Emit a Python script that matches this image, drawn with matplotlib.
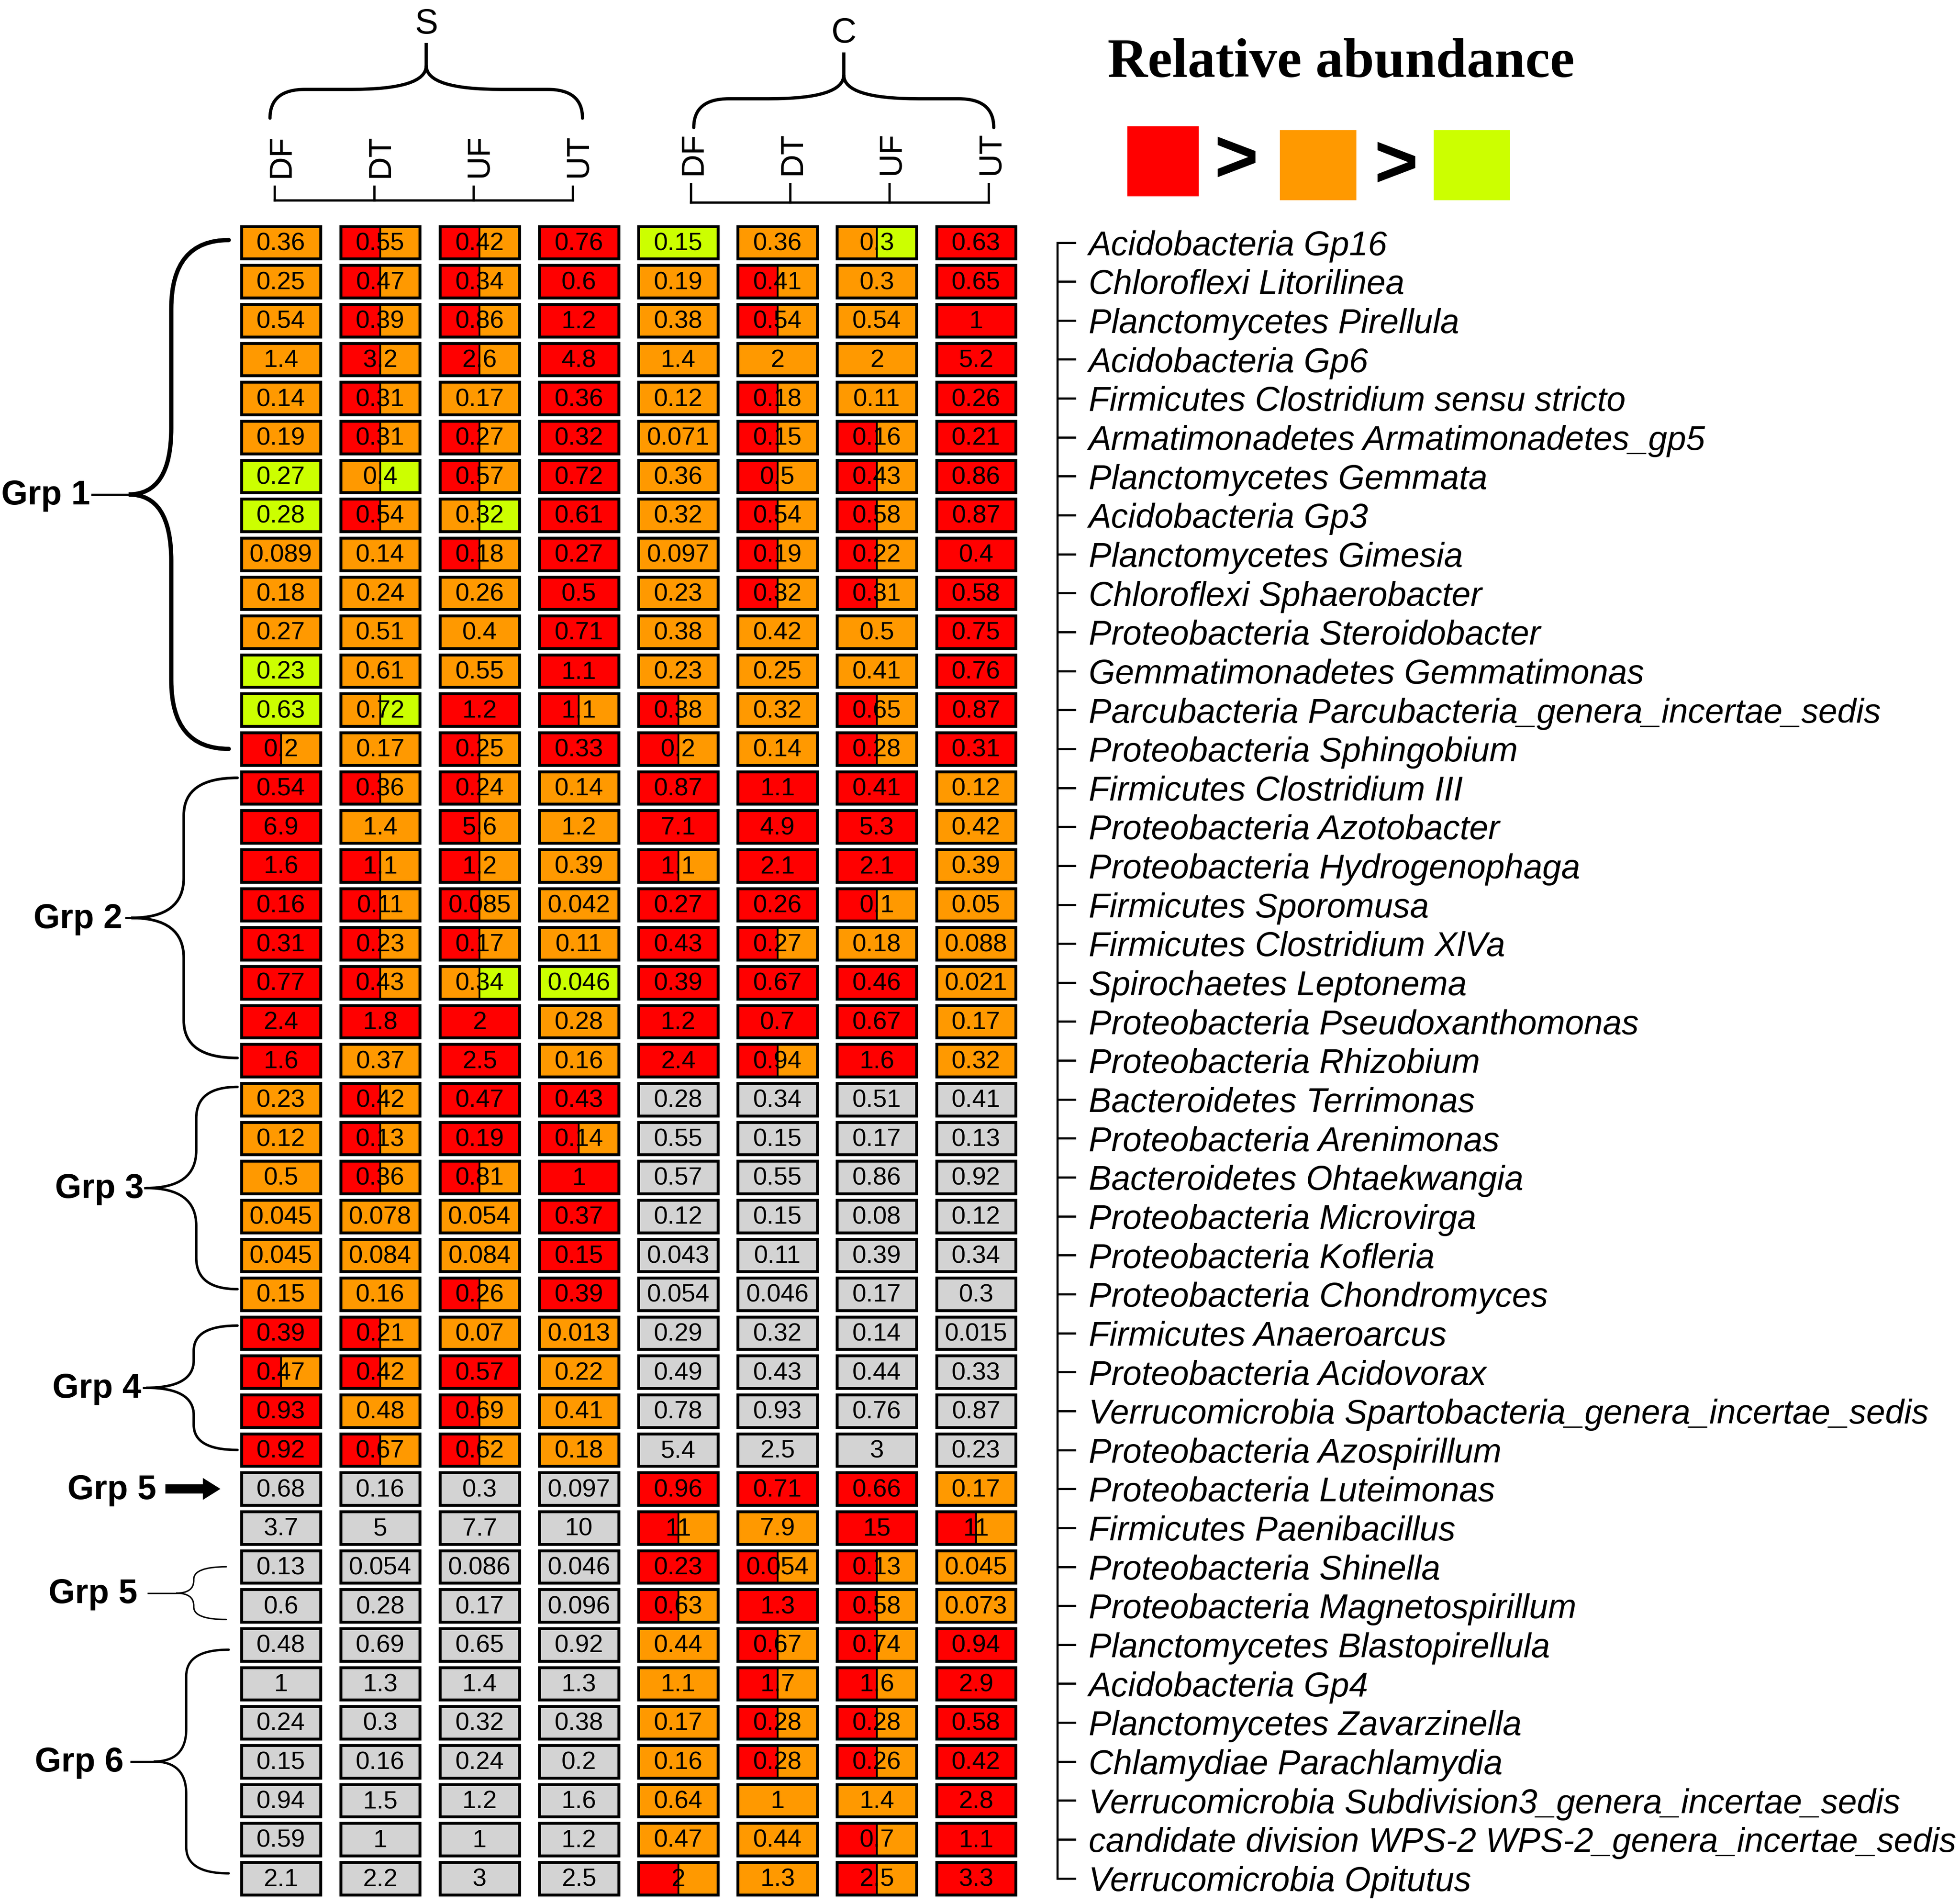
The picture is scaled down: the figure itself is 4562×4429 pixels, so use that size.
import matplotlib.pyplot as plt
import matplotlib.patches as mpatches
from matplotlib.path import Path

taxa = ['Acidobacteria Gp16', 'Chloroflexi Litorilinea', 'Planctomycetes Pirellula',
        'Acidobacteria Gp6', 'Firmicutes Clostridium sensu stricto',
        'Armatimonadetes Armatimonadetes_gp5', 'Planctomycetes Gemmata', 'Acidobacteria Gp3',
        'Planctomycetes Gimesia', 'Chloroflexi Sphaerobacter', 'Proteobacteria Steroidobacter',
        'Gemmatimonadetes Gemmatimonas', 'Parcubacteria Parcubacteria_genera_incertae_sedis',
        'Proteobacteria Sphingobium', 'Firmicutes Clostridium III', 'Proteobacteria Azotobacter',
        'Proteobacteria Hydrogenophaga', 'Firmicutes Sporomusa', 'Firmicutes Clostridium XlVa',
        'Spirochaetes Leptonema', 'Proteobacteria Pseudoxanthomonas', 'Proteobacteria Rhizobium',
        'Bacteroidetes Terrimonas', 'Proteobacteria Arenimonas', 'Bacteroidetes Ohtaekwangia',
        'Proteobacteria Microvirga', 'Proteobacteria Kofleria', 'Proteobacteria Chondromyces',
        'Firmicutes Anaeroarcus', 'Proteobacteria Acidovorax',
        'Verrucomicrobia Spartobacteria_genera_incertae_sedis', 'Proteobacteria Azospirillum',
        'Proteobacteria Luteimonas', 'Firmicutes Paenibacillus', 'Proteobacteria Shinella',
        'Proteobacteria Magnetospirillum', 'Planctomycetes Blastopirellula', 'Acidobacteria Gp4',
        'Planctomycetes Zavarzinella', 'Chlamydiae Parachlamydia',
        'Verrucomicrobia Subdivision3_genera_incertae_sedis',
        'candidate division WPS-2 WPS-2_genera_incertae_sedis', 'Verrucomicrobia Opitutus']

sites = ['S', 'C']
treatments = ['DF', 'DT', 'UF', 'UT']

# columns: S-DF S-DT S-UF S-UT C-DF C-DT C-UF C-UT
values = [
    [0.36, 0.55, 0.42, 0.76, 0.15, 0.36, 0.3, 0.63],
    [0.25, 0.47, 0.34, 0.6, 0.19, 0.41, 0.3, 0.65],
    [0.54, 0.39, 0.86, 1.2, 0.38, 0.54, 0.54, 1],
    [1.4, 3.2, 2.6, 4.8, 1.4, 2, 2, 5.2],
    [0.14, 0.31, 0.17, 0.36, 0.12, 0.18, 0.11, 0.26],
    [0.19, 0.31, 0.27, 0.32, 0.071, 0.15, 0.16, 0.21],
    [0.27, 0.4, 0.57, 0.72, 0.36, 0.5, 0.43, 0.86],
    [0.28, 0.54, 0.32, 0.61, 0.32, 0.54, 0.58, 0.87],
    [0.089, 0.14, 0.18, 0.27, 0.097, 0.19, 0.22, 0.4],
    [0.18, 0.24, 0.26, 0.5, 0.23, 0.32, 0.31, 0.58],
    [0.27, 0.51, 0.4, 0.71, 0.38, 0.42, 0.5, 0.75],
    [0.23, 0.61, 0.55, 1.1, 0.23, 0.25, 0.41, 0.76],
    [0.63, 0.72, 1.2, 1.1, 0.38, 0.32, 0.65, 0.87],
    [0.2, 0.17, 0.25, 0.33, 0.2, 0.14, 0.28, 0.31],
    [0.54, 0.36, 0.24, 0.14, 0.87, 1.1, 0.41, 0.12],
    [6.9, 1.4, 5.6, 1.2, 7.1, 4.9, 5.3, 0.42],
    [1.6, 1.1, 1.2, 0.39, 1.1, 2.1, 2.1, 0.39],
    [0.16, 0.11, 0.085, 0.042, 0.27, 0.26, 0.1, 0.05],
    [0.31, 0.23, 0.17, 0.11, 0.43, 0.27, 0.18, 0.088],
    [0.77, 0.43, 0.34, 0.046, 0.39, 0.67, 0.46, 0.021],
    [2.4, 1.8, 2, 0.28, 1.2, 0.7, 0.67, 0.17],
    [1.6, 0.37, 2.5, 0.16, 2.4, 0.94, 1.6, 0.32],
    [0.23, 0.42, 0.47, 0.43, 0.28, 0.34, 0.51, 0.41],
    [0.12, 0.13, 0.19, 0.14, 0.55, 0.15, 0.17, 0.13],
    [0.5, 0.36, 0.81, 1, 0.57, 0.55, 0.86, 0.92],
    [0.045, 0.078, 0.054, 0.37, 0.12, 0.15, 0.08, 0.12],
    [0.045, 0.084, 0.084, 0.15, 0.043, 0.11, 0.39, 0.34],
    [0.15, 0.16, 0.26, 0.39, 0.054, 0.046, 0.17, 0.3],
    [0.39, 0.21, 0.07, 0.013, 0.29, 0.32, 0.14, 0.015],
    [0.47, 0.42, 0.57, 0.22, 0.49, 0.43, 0.44, 0.33],
    [0.93, 0.48, 0.69, 0.41, 0.78, 0.93, 0.76, 0.87],
    [0.92, 0.67, 0.62, 0.18, 5.4, 2.5, 3, 0.23],
    [0.68, 0.16, 0.3, 0.097, 0.96, 0.71, 0.66, 0.17],
    [3.7, 5, 7.7, 10, 11, 7.9, 15, 11],
    [0.13, 0.054, 0.086, 0.046, 0.23, 0.054, 0.13, 0.045],
    [0.6, 0.28, 0.17, 0.096, 0.63, 1.3, 0.58, 0.073],
    [0.48, 0.69, 0.65, 0.92, 0.44, 0.67, 0.74, 0.94],
    [1, 1.3, 1.4, 1.3, 1.1, 1.7, 1.6, 2.9],
    [0.24, 0.3, 0.32, 0.38, 0.17, 0.28, 0.28, 0.58],
    [0.15, 0.16, 0.24, 0.2, 0.16, 0.28, 0.26, 0.42],
    [0.94, 1.5, 1.2, 1.6, 0.64, 1, 1.4, 2.8],
    [0.59, 1, 1, 1.2, 0.47, 0.44, 0.7, 1.1],
    [2.1, 2.2, 3, 2.5, 2, 1.3, 2.5, 3.3],
]

# R > O > G, N = not compared; two letters = left half / right half
levels = [
    'O RO RO R G O OG R', 'O RO RO R O RO O R', 'O RO RO R O RO O R', 'O RO RO R O O O R',
    'O RO O R O RO O R', 'O RO RO R O RO RO R', 'G OG RO R O RO RO R', 'G RO OG R O RO RO R',
    'O O RO R O RO RO R', 'O O O R O RO RO R', 'O O O R O O O R', 'G O O R O O O R',
    'G OG R RO RO O RO R', 'RO O RO R RO O RO R', 'R RO RO O R R R O', 'R O RO O R R R O',
    'R RO RO O RO R R O', 'R RO RO O R R RO O', 'R RO RO O R RO O O', 'R RO OG G R R R O',
    'R R R O R R R O', 'R O R O R RO R O', 'O RO R R N N N N', 'O RO R RO N N N N',
    'O RO RO R N N N N', 'O O O R N N N N', 'O O O R N N N N', 'O O RO R N N N N',
    'R RO O O N N N N', 'RO RO R O N N N N', 'R O RO O N N N N', 'R RO RO O N N N N',
    'N N N N R R R O', 'N N N N RO O R RO', 'N N N N R RO RO O', 'N N N N RO R RO O',
    'N N N N O RO RO R', 'N N N N O RO RO R', 'N N N N O RO RO R', 'N N N N O RO RO R',
    'N N N N O O O R', 'N N N N O O RO R', 'N N N N RO O RO R',
]

group_names = ['Grp 1', 'Grp 2', 'Grp 3', 'Grp 4', 'Grp 5', 'Grp 5', 'Grp 6']
group_rows = [(0, 13), (14, 21), (22, 27), (28, 31), (32, 32), (34, 35), (36, 42)]

colors = {'R': '#FF0000', 'O': '#FF9900', 'G': '#CCFF00', 'N': '#D3D3D3'}

# ---- layout (units = pixels of a 1568 x 1522 canvas) ----
W, H = 1568, 1522
x0, dx, cw = 193, 79.45, 63.5
y0, dy, ch = 181, 31.15, 26
SANS = 'Liberation Sans'

fig = plt.figure(figsize=(4562 / 300, 4429 / 300), dpi=300)
ax = fig.add_axes([0, 0, 1, 1])
ax.set_xlim(0, W)
ax.set_ylim(H, 0)
ax.axis('off')


def row_mid(i):
    return y0 + i * dy + ch / 2


def col_mid(j):
    return x0 + j * dx + cw / 2


def brace(a, b, base, d, h, r1, r2, stem, orient, lw, stem_lw=None):
    c = (a + b) / 2
    uv = [(a, 0), (a, d), (a + r1, d), (c - r2, d), (c, d), (c, d + h),
          (c, d), (c + r2, d), (b - r1, d), (b, d), (b, 0)]
    codes = [Path.MOVETO, Path.CURVE3, Path.CURVE3, Path.LINETO, Path.CURVE3, Path.CURVE3,
             Path.CURVE3, Path.CURVE3, Path.LINETO, Path.CURVE3, Path.CURVE3]
    if orient == 'up':
        conv = lambda u, v: (u, base - v)
    else:
        conv = lambda u, v: (base - v, u)
    verts = [conv(u, v) for u, v in uv]
    ax.add_patch(mpatches.PathPatch(Path(verts, codes), fill=False, lw=lw,
                                    edgecolor='black', capstyle='round'))
    if stem > 0:
        p1, p2 = conv(c, d + h), conv(c, d + h + stem)
        ax.plot([p1[0], p2[0]], [p1[1], p2[1]], color='black',
                lw=stem_lw if stem_lw else lw, solid_capstyle='butt')
    return conv(c, d + h + stem)


# ---- cells ----
for i, row in enumerate(values):
    codes_row = levels[i].split()
    for j, v in enumerate(row):
        lv = codes_row[j]
        xl = x0 + j * dx
        yt = y0 + i * dy
        if len(lv) == 1:
            ax.add_patch(mpatches.Rectangle((xl, yt), cw, ch, facecolor=colors[lv],
                                            edgecolor='none'))
        else:
            ax.add_patch(mpatches.Rectangle((xl, yt), cw / 2, ch, facecolor=colors[lv[0]],
                                            edgecolor='none'))
            ax.add_patch(mpatches.Rectangle((xl + cw / 2, yt), cw / 2, ch,
                                            facecolor=colors[lv[1]], edgecolor='none'))
            ax.plot([xl + cw / 2, xl + cw / 2], [yt, yt + ch], color='black', lw=1.0)
        ax.add_patch(mpatches.Rectangle((xl, yt), cw, ch, facecolor='none',
                                        edgecolor='black', lw=1.6))
        ax.text(xl + cw / 2, yt + ch / 2 + 1, '%g' % v, ha='center', va='center',
                fontsize=14, family=SANS)

# ---- row labels with bracket ----
lx = 846
ax.plot([lx, lx], [row_mid(0), row_mid(len(taxa) - 1)], color='black', lw=1.2)
for i, name in enumerate(taxa):
    ax.plot([lx, lx + 14], [row_mid(i), row_mid(i)], color='black', lw=1.2)
    ax.text(871, row_mid(i) + 3, name, ha='left', va='center', fontsize=19,
            style='italic', family=SANS)

# ---- column header ----
header = {'S': dict(lab_off=0, tick_off=-5, tick_top=149, line_y=160, lab_y=142,
                    ends=(216, 466), base=94.5),
          'C': dict(lab_off=12, tick_off=10, tick_top=147, line_y=162, lab_y=140,
                    ends=(555, 795), base=102)}
for k, s in enumerate(sites):
    hd = header[s]
    xs = [col_mid(4 * k + j) + hd['tick_off'] for j in range(4)]
    ax.plot([xs[0], xs[-1]], [hd['line_y'], hd['line_y']], color='black', lw=1.3)
    for j, t in enumerate(treatments):
        ax.plot([xs[j], xs[j]], [hd['tick_top'], hd['line_y']], color='black', lw=1.3)
        ax.text(col_mid(4 * k + j) + hd['lab_off'], hd['lab_y'], t, rotation=90,
                ha='center', va='bottom', fontsize=18, family=SANS)
    tip = brace(hd['ends'][0], hd['ends'][1], hd['base'], 23, 19, 28, 60, 18, 'up', 1.8)
    ax.text(tip[0], tip[1] - 2, s, ha='center', va='bottom', fontsize=19.5, family=SANS)

# ---- legend ----
ax.text(1073, 51, 'Relative abundance', ha='center', va='center', fontsize=31,
        fontweight='bold', family='Liberation Serif')
for (xa, xb, ya, yb), key in zip([(902, 959, 101, 157), (1024, 1085, 104, 160),
                                  (1147, 1208, 104, 160)], ['R', 'O', 'G']):
    ax.add_patch(mpatches.Rectangle((xa, ya), xb - xa, yb - ya, facecolor=colors[key],
                                    edgecolor='none'))
for gx, gy in [(989, 130), (1117, 134)]:
    ax.text(gx, gy, '>', ha='center', va='center', fontsize=42, fontweight='bold',
            family=SANS)

# ---- group braces ----
# base, d, h, r1, r2, stem, lw, text_right, pad_top, pad_bottom
glay = [(183, 46, 34, 55, 53, 30, 2.4, 72, -2, 0),
        (190, 43, 42, 30, 32, 5, 1.5, 98, -8, -2),
        (190, 33, 40, 25, 30, 2, 1.4, 115, -10, -4),
        (190, 35, 38, 20, 22, 3, 1.4, 113, -6, 0),
        None,
        (181, 26, 14, 10, 10, 23, 0.8, 110, 0, 11),
        (183, 34, 26, 21, 26, 19, 1.3, 99, 4, -4)]
for name, (ra, rb), lay in zip(group_names, group_rows, glay):
    if lay is None:
        ym = row_mid(ra)
        ax.add_patch(mpatches.FancyArrow(133, ym, 42, 0, width=6, head_width=15,
                                         head_length=12, length_includes_head=True,
                                         color='black'))
        ax.text(125, ym + 1, name, ha='right', va='center', fontsize=19,
                fontweight='bold', family=SANS)
        continue
    base, d, h, r1, r2, stem, lw, tr, pt, pb = lay
    tip = brace(row_mid(ra) + pt, row_mid(rb) + pb, base, d, h, r1, r2, stem, 'left',
                lw, stem_lw=min(lw, 1.2))
    ax.text(tr, tip[1] + 1, name, ha='right', va='center', fontsize=19,
            fontweight='bold', family=SANS)

fig.savefig('out.png', dpi=300, facecolor='white')
